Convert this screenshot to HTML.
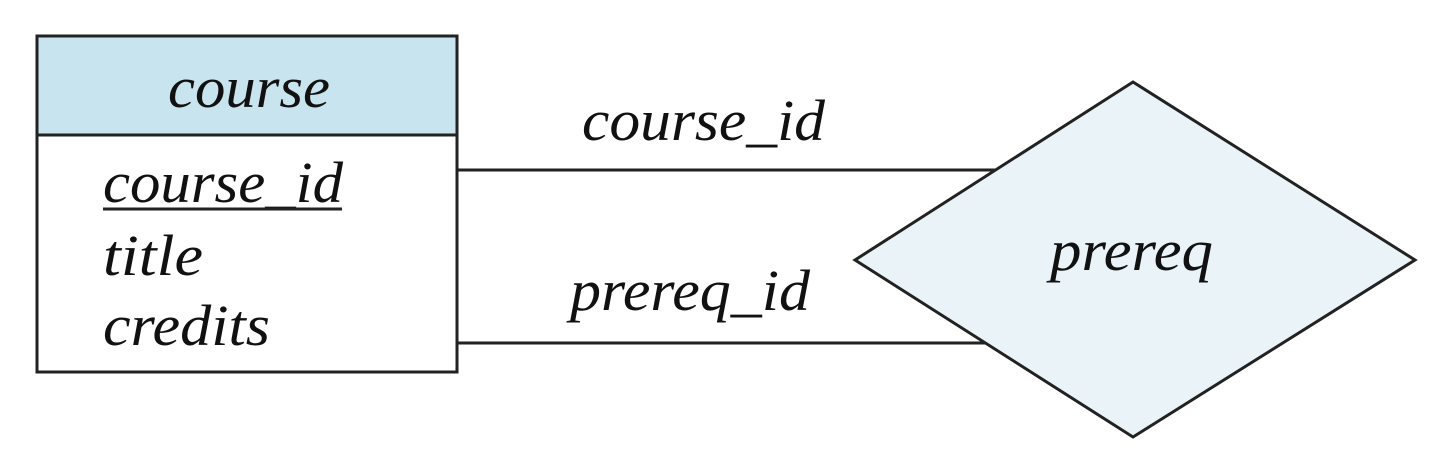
<!DOCTYPE html>
<html><head><style>html,body{margin:0;padding:0;background:#fff;} text{font-family:"Liberation Serif",serif;font-style:italic;}</style></head>
<body>
<svg width="1440" height="446" viewBox="0 0 1440 446" xmlns="http://www.w3.org/2000/svg" fill="#111">
<rect x="37" y="36" width="420" height="100" fill="#c8e5ef"/>
<rect x="37" y="36" width="420" height="336" fill="none" stroke="#222" stroke-width="3"/>
<line x1="37" y1="135" x2="457" y2="135" stroke="#222" stroke-width="3"/>
<line x1="457" y1="170" x2="1000" y2="170" stroke="#222" stroke-width="3"/>
<line x1="457" y1="343" x2="1000" y2="343" stroke="#222" stroke-width="3"/>
<polygon points="855,260 1133,82 1415,260 1133,437" fill="#eaf4f8" stroke="#222" stroke-width="3"/>
<text x="168" y="107" font-size="58" textLength="162" lengthAdjust="spacingAndGlyphs">course</text>
<text x="103" y="202" font-size="58" textLength="240" lengthAdjust="spacingAndGlyphs">course_id</text>
<line x1="103" y1="209" x2="342" y2="209" stroke="#222" stroke-width="3"/>
<text x="103" y="275" font-size="58" textLength="100" lengthAdjust="spacingAndGlyphs">title</text>
<text x="103" y="345" font-size="58" textLength="167" lengthAdjust="spacingAndGlyphs">credits</text>
<text x="582" y="140" font-size="58" textLength="243" lengthAdjust="spacingAndGlyphs">course_id</text>
<text x="570" y="310" font-size="58" textLength="240" lengthAdjust="spacingAndGlyphs">prereq_id</text>
<text x="1050" y="270" font-size="58" textLength="163" lengthAdjust="spacingAndGlyphs">prereq</text>
</svg>
</body></html>
